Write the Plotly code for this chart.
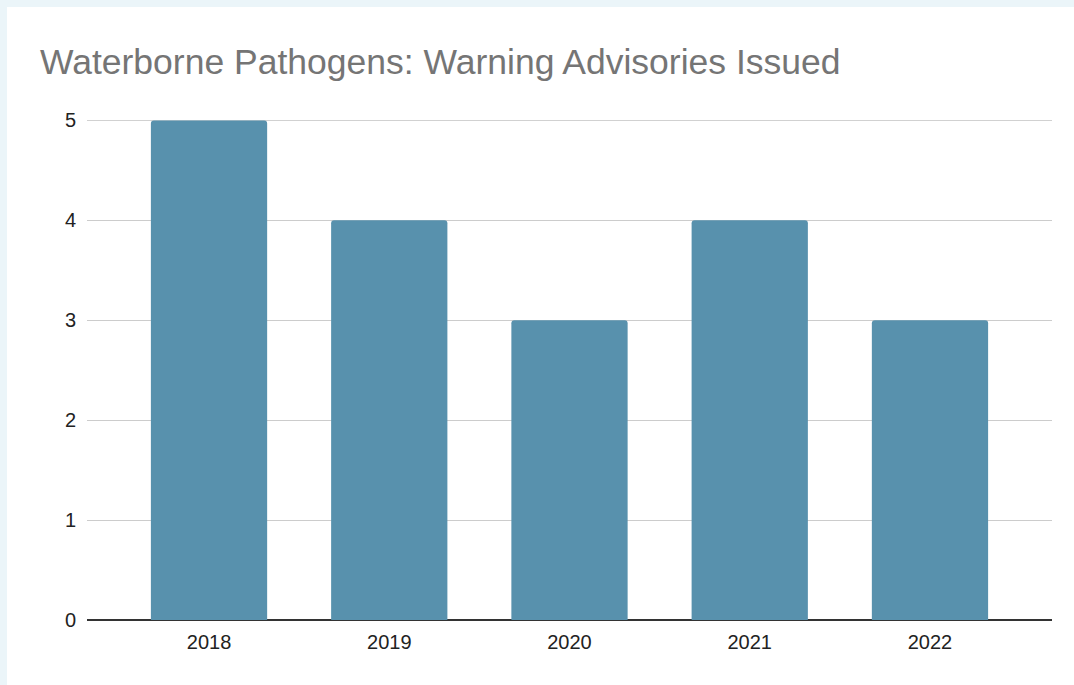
import plotly.graph_objects as go

years = ["2018", "2019", "2020", "2021", "2022"]
advisories = [5, 4, 3, 4, 3]
y_ticks = [0, 1, 2, 3, 4, 5]

W, H = 1074, 685
L, R, T, B = 87, 1052, 120, 620

fig = go.Figure(go.Bar(
    x=years, y=advisories,
    marker=dict(color="#5891AD", cornerradius=3, line=dict(width=0)),
    width=0.645,
))

pw, ph = R - L, B - T
def px_x(x):
    return (x - L) / pw
def px_y(y):
    return (B - y) / ph

fig.add_shape(type="rect", xref="paper", yref="paper",
              x0=px_x(7), x1=px_x(W + 5), y0=px_y(H + 5), y1=px_y(7),
              fillcolor="white", line=dict(width=0), layer="below")
# top gridline (plotly skips the gridline at the range edge)
fig.add_shape(type="line", xref="paper", yref="y", x0=0, x1=1,
              y0=max(y_ticks), y1=max(y_ticks),
              line=dict(color="#CCCCCC", width=1), layer="below")

fig.update_layout(
    width=W, height=H,
    margin=dict(l=L, r=W - R, t=T, b=H - B),
    paper_bgcolor="#EBF5F9",
    plot_bgcolor="rgba(0,0,0,0)",
    showlegend=False,
    title=dict(text="Waterborne Pathogens: Warning Advisories Issued",
               x=40 / W, xref="container", xanchor="left",
               y=1 - 62 / H, yref="container", yanchor="middle",
               font=dict(family="Liberation Sans, Arial, sans-serif", size=35.5, color="#757575")),
    font=dict(family="Liberation Sans, Arial, sans-serif", size=20, color="#222222"),
    xaxis=dict(range=[-0.677, 4.677], showgrid=False, showline=False, ticks="",
               tickfont=dict(size=20, color="#222222"), ticklabelstandoff=8),
    yaxis=dict(range=[0, 5.004], tickvals=y_ticks, showgrid=True, gridcolor="#CCCCCC",
               gridwidth=1, zeroline=True, zerolinecolor="#333333", zerolinewidth=1.5,
               showline=False, ticks="", ticklabelstandoff=10,
               tickfont=dict(size=20, color="#222222")),
    bargap=0.355,
)

fig.write_html("out.html", config={"displayModeBar": False},
               post_script="document.body.style.margin='0px';document.body.style.background='#EBF5F9';")
